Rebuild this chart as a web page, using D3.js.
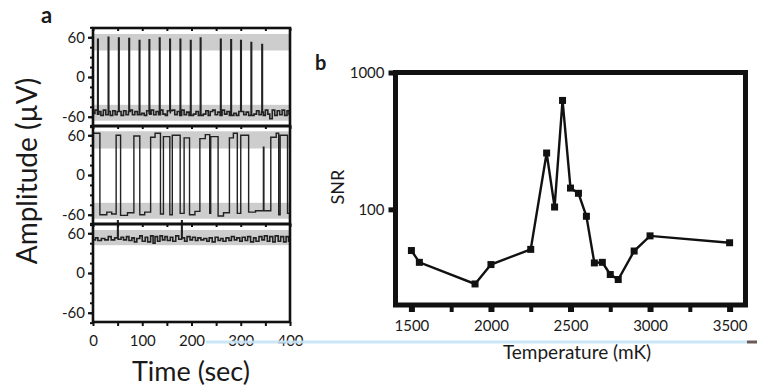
<!DOCTYPE html>
<html>
<head>
<meta charset="utf-8">
<script src="https://cdn.jsdelivr.net/npm/d3@7"></script>
<style>
  body { margin: 0; background: #fff; }
  svg { display: block; }
  text { font-family: Lato, "Open Sans", sans-serif; fill: #1a1a1a; }
</style>
</head>
<body>
<svg id="chart" width="757" height="387"></svg>
<script>
// ---- panel a : three amplitude traces (time sec, amplitude uV), step-after
const spikeTimesA = [9.5, 31, 52, 73, 94, 114, 135, 156, 177, 198, 218, 259, 280, 300, 321, 343];
const spikePeaksA = [57, 60, 59, 58, 55, 56, 59, 57, 57, 55, 59, 57, 56, 55, 52, 49];
const baseA = [
  [0,-55],[4,-50],[9,-56],[12,-52],[16,-58],[21,-50],[26,-57],[31,-52],[35,-58],[40,-51],
  [45,-57],[49,-52],[53,-50],[57,-58],[62,-51],[67,-57],[72,-52],[76,-50],[80,-57],[85,-52],
  [90,-57],[95,-50],[99,-55],[104,-58],[109,-51],[114,-56],[118,-50],[123,-57],[128,-52],[133,-57],
  [137,-50],[142,-56],[147,-58],[151,-51],[157,-55],[161,-50],[166,-57],[171,-52],[176,-58],[180,-50],
  [185,-57],[190,-53],[195,-58],[199,-50],[204,-56],[209,-52],[214,-58],[219,-50],[224,-56],[229,-51],
  [234,-58],[238,-52],[243,-50],[248,-57],[253,-53],[258,-58],[262,-50],[267,-56],[272,-52],[277,-58],
  [281,-50],[286,-55],[291,-58],[296,-52],[301,-50],[306,-57],[311,-53],[316,-58],[322,-50],[327,-56],
  [332,-51],[337,-57],[342,-53],[346,-58],[350,-50],[355,-56],[359,-63],[364,-50],[369,-58],[374,-51],
  [379,-57],[384,-50],[389,-58],[394,-51],[398,-56],[400,-56]
];
const traceB = [
  [0,63],[14,-60],[28,-56],[38,-59],[47,60],[56,-61],[70,-57],[83,59],[95,-60],[105,-56],
  [117,57],[126,63],[137,-59],[143,58],[156,-60],[161,60],[177,-58],[185,56],[196,-60],[207,-55],
  [217,55],[228,61],[237,-58],[239,58],[254,-62],[265,-57],[277,56],[285,63],[293,-58],[300,60],
  [316,-56],[330,-54],[346,42],[347,-54],[361,57],[372,63],[377,-60],[380,60],[395,-58],[400,-58]
];
const traceC = [
  [0,50],[5,53],[10,49],[17,52],[24,50],[31,55],[37,50],[44,53],[50,82],[51,51],
  [57,54],[62,50],[68,55],[73,49],[79,53],[84,47],[89,52],[95,56],[100,48],[106,54],
  [111,47],[117,56],[122,45],[126,55],[131,48],[136,56],[141,50],[146,55],[151,49],[157,54],
  [162,48],[168,56],[174,51],[180,82],[181,53],[186,48],[191,55],[197,50],[202,54],[208,49],
  [213,53],[219,50],[225,52],[231,48],[236,53],[242,47],[248,54],[254,49],[259,52],[264,48],
  [270,53],[276,49],[281,55],[287,50],[292,53],[298,48],[303,54],[309,49],[314,55],[320,47],
  [326,53],[331,48],[337,55],[343,50],[348,56],[354,48],[359,55],[365,47],[370,56],[376,48],
  [381,55],[387,47],[392,55],[397,48],[400,48]
];
// shaded levels for each strip
const bandsA = [[[40, 65], [-66, -42]], [[40, 66], [-66, -42]], [[42, 65]]];
const ampTicks = [-60, 0, 60];
const timeTicks = [0, 100, 200, 300, 400];

// ---- panel b : SNR vs temperature
const temps = [1500, 1550, 1900, 2000, 2250, 2350, 2400, 2450, 2500, 2550, 2600, 2650, 2700, 2750, 2800, 2900, 3000, 3500];
const snr   = [50, 41, 28.5, 39.5, 51, 258, 104, 625, 143, 131, 89, 40.6, 41, 33.4, 30.7, 49.6, 64, 57];
const snrTicks = [100, 1000];
const tempTicks = [1500, 2000, 2500, 3000, 3500];

const svg = d3.select('#chart');

// ================= panel a =================
const ax = d3.scaleLinear().domain([0, 400]).range([93, 290]);
const panelTops = [28, 126, 224];
const panelH = 98;

// spikes merged into the baseline of the first trace
function withSpikes(base, times, peaks) {
  const valAt = t => { let v = base[0][1]; base.forEach(p => { if (p[0] <= t) v = p[1]; }); return v; };
  const pts = base.slice();
  times.forEach((t, i) => { pts.push([t, peaks[i]]); pts.push([t + 1, valAt(t)]); });
  return pts.sort((a, b) => a[0] - b[0]);
}
const traces = [withSpikes(baseA, spikeTimesA, spikePeaksA), traceB, traceC];

panelTops.forEach((top, i) => {
  const y = d3.scaleLinear().domain([-74, 74]).range([top + panelH, top]);
  const g = svg.append('g');

  g.selectAll('rect.band').data(bandsA[i]).join('rect')
    .attr('x', ax(0) + 1).attr('width', ax(400) - ax(0) - 2)
    .attr('y', d => y(d[1])).attr('height', d => y(d[0]) - y(d[1]))
    .attr('fill', '#cdcdcd');

  const clipId = 'clip' + i;
  svg.append('clipPath').attr('id', clipId).append('rect')
    .attr('x', ax(0)).attr('y', i === 2 ? top - 4 : top).attr('width', ax(400) - ax(0)).attr('height', panelH + 4);

  g.append('path').datum(traces[i])
    .attr('clip-path', `url(#${clipId})`)
    .attr('fill', 'none').attr('stroke', '#222').attr('stroke-width', i === 1 ? 1.4 : 1.6)
    .attr('d', d3.line().x(d => ax(d[0])).y(d => y(d[1])).curve(d3.curveStepAfter));

  // minor left ticks
  g.append('g').attr('transform', `translate(${ax(0)},0)`)
    .call(d3.axisLeft(y).tickValues(d3.range(-75, 76, 15)).tickSize(3).tickFormat(''))
    .call(s => s.select('.domain').remove())
    .call(s => s.selectAll('line').attr('stroke', '#111').attr('stroke-width', 2));
  // major left ticks + labels
  g.append('g').attr('transform', `translate(${ax(0)},0)`)
    .call(d3.axisLeft(y).tickValues(ampTicks).tickSize(5).tickPadding(3).tickFormat(d => String(d)))
    .call(s => s.select('.domain').remove())
    .call(s => s.selectAll('line').attr('stroke', '#111').attr('stroke-width', 2.2))
    .call(s => s.selectAll('text').attr('font-size', 15).attr('fill', '#1a1a1a'));
  // inward time ticks along the top of each strip
  g.append('g').attr('transform', `translate(0,${top})`)
    .call(d3.axisBottom(ax).tickValues(d3.range(0, 401, 50)).tickSize(3).tickFormat(''))
    .call(s => s.select('.domain').remove())
    .call(s => s.selectAll('line').attr('stroke', '#111').attr('stroke-width', 2));

  g.append('rect').attr('x', ax(0)).attr('y', top).attr('width', ax(400) - ax(0)).attr('height', panelH)
    .attr('fill', 'none').attr('stroke', '#111').attr('stroke-width', 2.6);
});

// bottom time axis
svg.append('g').attr('transform', `translate(0,${panelTops[2] + panelH})`)
  .call(d3.axisBottom(ax).tickValues(d3.range(0, 401, 50)).tickSize(4).tickPadding(9)
    .tickFormat(d => timeTicks.includes(d) ? d : ''))
  .call(s => s.select('.domain').remove())
  .call(s => s.selectAll('line').attr('stroke', '#111').attr('stroke-width', 2))
  .call(s => s.selectAll('text').attr('font-size', 15).attr('fill', '#1a1a1a'));

svg.append('text').attr('x', 191).attr('y', 381).attr('text-anchor', 'middle')
  .attr('font-size', 27).text('Time (sec)');
svg.append('text').attr('transform', 'translate(37,171) rotate(-90)').attr('text-anchor', 'middle')
  .attr('font-size', 28).text('Amplitude (µV)');
svg.append('text').attr('x', 41).attr('y', 23).attr('font-size', 22).attr('font-weight', 'bold').text('a');

// ================= panel b =================
const bx = d3.scaleLinear().domain([1400, 3600]).range([395.5, 745.5]);
const by = d3.scaleLog().domain([20, 1000]).range([305, 72.5]);

svg.append('g').attr('transform', `translate(0,${by(20) + 2})`)
  .call(d3.axisBottom(bx).tickValues(d3.range(1500, 3501, 250)).tickSize(5).tickPadding(8)
    .tickFormat(d => tempTicks.includes(d) ? d : ''))
  .call(s => s.select('.domain').remove())
  .call(s => s.selectAll('line').attr('stroke', '#111').attr('stroke-width', d => d % 500 === 0 ? 6 : 4))
  .call(s => s.selectAll('text').attr('font-size', 15).attr('fill', '#1a1a1a'));

svg.append('g').attr('transform', `translate(${bx(1400) - 2},0)`)
  .call(d3.axisLeft(by).tickValues(snrTicks).tickSize(5).tickPadding(4).tickFormat(d => String(d)))
  .call(s => s.select('.domain').remove())
  .call(s => s.selectAll('line').attr('stroke', '#111').attr('stroke-width', 5))
  .call(s => s.selectAll('text').attr('font-size', 15).attr('fill', '#1a1a1a'));

svg.append('rect').attr('x', bx(1400)).attr('y', by(1000)).attr('width', bx(3600) - bx(1400))
  .attr('height', by(20) - by(1000)).attr('fill', 'none').attr('stroke', '#111').attr('stroke-width', 5);

const pts = temps.map((t, i) => [t, snr[i]]);
svg.append('path').datum(pts)
  .attr('fill', 'none').attr('stroke', '#111').attr('stroke-width', 2.4)
  .attr('d', d3.line().x(d => bx(d[0])).y(d => by(d[1])));
svg.selectAll('rect.mk').data(pts).join('rect').attr('class', 'mk')
  .attr('x', d => bx(d[0]) - 3.5).attr('y', d => by(d[1]) - 3.5)
  .attr('width', 7).attr('height', 7).attr('fill', '#111');

svg.append('text').attr('transform', 'translate(344,187) rotate(-90)').attr('text-anchor', 'middle')
  .attr('font-size', 18).text('SNR');
svg.append('text').attr('x', 577).attr('y', 359).attr('text-anchor', 'middle')
  .attr('font-size', 19).text('Temperature (mK)');
svg.append('text').attr('x', 315).attr('y', 70).attr('font-size', 20).attr('font-weight', 'bold').text('b');

// scan streak across the lower part of the figure
svg.append('line').attr('x1', 206).attr('x2', 747).attr('y1', 342).attr('y2', 342)
  .attr('stroke', '#c6e4f7').attr('stroke-width', 3).attr('opacity', 0.9);
svg.append('line').attr('x1', 747).attr('x2', 757).attr('y1', 342).attr('y2', 342)
  .attr('stroke', '#6b5a55').attr('stroke-width', 3);
</script>
</body>
</html>
